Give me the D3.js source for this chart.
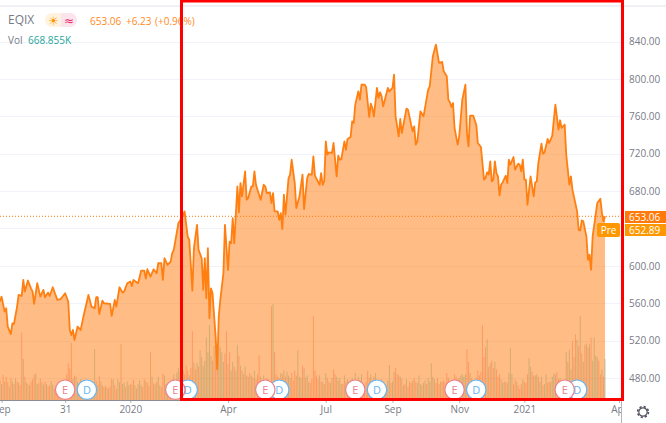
<!DOCTYPE html>
<html>
<head>
<meta charset="utf-8">
<title>EQIX</title>
<script src="https://cdn.jsdelivr.net/npm/d3@7"></script>
<style>
  body { margin: 0; background: #fff; }
  svg { display: block; font-family: "Open Sans", sans-serif; }
  .axis path, .axis line { stroke: #b2b5be; }
  .axis text { fill: #787b86; font-size: 10px; font-family: "Open Sans", sans-serif; }
</style>
</head>
<body>
<div id="chart"></div>
<script>
// trading day index (0 = start of Sep 2019) and the closing price
var priceDays = [0,1,3,4,5,7,8,9,11,12,14,15,16,18,20,21,22,24,26,28,29,31,32,34,37,39,42,44,45,46,47,48,
  50,52,54,57,59,61,62,63,64,66,67,71,72,74,75,77,79,80,82,84,85,86,89,91,93,94,95,97,99,101,102,104,105,106,108,110,111,112,115,117,
  119,121,122,124,125,127,128,130,131,132,133,134,135,136,137,139,140,141,142,144,145,147,148,149,150,151,153,
  154,155,156,158,159,160,162,163,164,165,168,170,171,172,174,175,176,177,179,180,181,182,183,184,186,187,188,190,191,193,195,196,198,199,
  201,202,203,206,207,208,209,210,211,212,214,215,217,218,219,220,222,223,224,226,227,228,229,231,232,233,235,236,238,239,240,241,243,244,245,246,247,248,
  250,251,253,254,255,257,258,259,262,263,265,266,267,268,269,271,273,276,277,279,281,283,285,286,288,289,290,291,292,293,295,296,298,
  300,301,302,303,305,307,308,310,312,313,314,315,316,317,318,319,320,321,322,323,324,326,327,328,329,331,332,334,335,336,337,338,339,
  340,342,344,345,346,347,349,350,351,353,354,356,357,358,360,361,362,364,365,366,367,368,369,372,373,374,375,376,378,379,380,381,382,385,387,388,389,390];
var priceValues = [561.8,567,551,554.6,535,527,538.5,537.8,556.4,568.9,567.8,585,572.5,584.3,576,572.5,559.3,581.4,567.1,574.3,566.4,571.4,567.8,577.1,563.5,564.3,570.7,561.8,531.4,526,531.4,520.7,
  535,531.4,547.5,568.9,556.4,554.6,566.4,566.4,548.5,562.8,560,559.3,546.4,563.5,556.4,577.1,571.4,572.5,581.4,583.2,578.5,585,581.4,595,595,586.4,596.4,588.5,596.4,592.1,602.8,602.8,585,608.2,601,604.6,613.5,617.1,645.7,651,
  658.2,631.4,627.8,573.5,618.9,643.9,617.1,608.2,574.3,608.2,565.3,618.9,543.9,576,570.7,524.3,489.3,545.7,563.5,592.1,643.9,595.7,626,624.2,651,624.2,685,
  657.2,688.6,674.3,701.1,670.8,672.6,685,685,701.1,686.8,670.8,686.8,685,677.9,678.6,667.2,677.9,658.3,658.3,649.3,656.5,639.4,676.1,654.7,694,697.6,713.6,688.6,661.9,674.3,697.6,660.8,694,698.3,
  697.6,717.2,696.5,686.8,699.3,686.8,690.4,733.3,719,721.5,720.8,731.5,695.8,717.9,713.6,714.3,733.3,724.3,735.8,737.9,754.7,752.9,772.6,786.8,777.9,794,794,791.5,759.3,773.6,769,760,790.4,779.7,785.8,781.5,770.8,777.2,
  790.4,786.8,790.4,804.7,760,738.6,757.2,742.2,768.3,767.2,751.1,744,749.3,729.7,733.3,765.4,760,788.6,792.2,824.3,836.8,817.2,818.3,808.3,802.9,777.9,775,770,774.3,747.6,729.7,738.6,777.9,
  794,742.2,727.9,760.8,760.8,751.1,731.5,727.2,692.2,694,700.1,697.6,711.8,690.4,692.2,711.8,699.3,695.8,675.4,686.8,689.3,696.5,688.6,713.6,708.3,716.5,702.9,709.3,708.3,701.1,713.6,692.2,692.2,
  665.4,695.8,674.3,689.3,690.4,710,730.8,720,721.5,735.8,731.5,739.3,756.5,772.6,745.8,755.8,747.6,751.1,719,702.9,686.8,695.8,681.5,658.3,638.6,637.9,648.6,647.6,631.5,606.5,611.9,595.8,631.5,667.2,671.8,656.5,647.6,653];

// volume in thousands per trading day, negative = down day
var volumes = [
  -320,260,-410,300,-380,-290,220,-350,300,-260,
  350,-300,280,-240,-1100,670,-380,290,-260,240,
  -300,-340,-410,430,260,-280,-350,290,250,-300,
  260,-220,-240,310,250,-190,-230,-280,220,-210,
  240,-260,300,-420,-600,-520,-930,350,-400,380,
  300,-260,340,-220,290,260,-240,280,-300,-250,
  260,830,-310,240,-390,300,-240,-210,230,-200,
  190,-220,-350,330,-240,-180,340,290,-910,260,
  280,-210,300,240,-260,250,-330,240,-190,260,
  320,240,-210,-340,300,-280,-230,-780,380,-270,
  260,-300,380,240,-210,-430,400,-260,280,-220,
  310,-340,420,-300,450,520,460,-350,480,-420,
  -560,-480,400,-520,-1120,610,-500,600,-540,810,
  700,560,640,1020,780,1220,720,-640,880,-960,
  -800,900,860,780,620,-760,-1120,580,-780,480,
  620,-540,480,900,-720,560,-480,420,540,-400,
  380,-440,400,-360,480,-340,-420,-730,380,-320,
  400,-300,-360,340,-300,-1530,1560,-780,-420,-380,
  -350,440,-420,480,-380,460,400,360,-440,-320,
  -480,-400,810,380,360,-560,520,-360,400,300,
  -280,-340,-1370,-480,-400,-340,400,-300,300,-260,
  440,-360,-300,280,360,-500,-420,380,-320,360,
  260,-260,400,-300,340,280,320,360,-300,440,
  -240,380,-320,420,-260,-240,-300,-480,-360,420,
  -320,-380,440,-300,280,-260,-340,300,260,-240,
  320,570,-280,300,460,-520,-420,-400,380,-340,
  240,-260,340,-220,-300,-280,320,-360,-300,280,
  400,260,-240,280,320,-260,360,300,600,380,
  340,-280,-360,-260,300,-300,-320,-280,-440,-360,
  -280,300,-260,-420,-380,-340,360,400,420,380,
  420,-830,-620,440,-360,280,-320,-360,-480,-400,
  -460,-1220,-700,-860,990,-540,600,-640,-520,620,
  -500,-380,-420,340,280,300,-300,-280,440,850,
  420,-260,-340,300,-240,-180,-260,340,-300,-280,
  -420,680,540,-460,-400,400,420,-380,300,380,
  -240,260,420,-280,-300,300,380,440,420,-460,
  -340,360,-300,-200,-300,780,-620,820,500,-960,
  700,-1070,980,-880,1370,-760,620,-900,920,-860,
  910,-1020,640,1020,720,700,-640,-420,500,-380,
  668.855];

var xTickDays = [1,42,84,147,210,253,296,338,399];
var xTickLabels = ["Sep","31","2020","Apr","Jul","Sep","Nov","2021","Apr"];
var gridPrices = [480,520,560,600,640,680,720,760,800,840];
var axisPrices = [480,520,560,600,680,720,760,800,840];
var earningsDays = [42,113,171,229,293,364];
var dividendDays = [56,121,180,243,307,372];
var lastPrice = 653.06;
var prePrice = 652.89;

var width = 666, height = 423, plotRight = 621, plotBottom = 400;

var svg = d3.select("#chart").append("svg").attr("width", width).attr("height", height);

var x = d3.scaleLinear().domain([0, 399]).range([0, 619]);
var y = d3.scaleLinear().domain([480, 840]).range([378, 41.6]);
var yVol = d3.scaleLinear().domain([0, 1630]).range([plotBottom, 300]);

svg.append("clipPath").attr("id", "plot").append("rect")
  .attr("width", plotRight).attr("height", plotBottom);

var plot = svg.append("g").attr("clip-path", "url(#plot)");

// top border
svg.append("line").attr("x1", 0).attr("x2", width).attr("y1", 6).attr("y2", 6)
  .attr("stroke", "#e0e3eb").attr("stroke-width", 1);

plot.selectAll(".grid").data(gridPrices).enter().append("line")
  .attr("class", "grid")
  .attr("x1", 0).attr("x2", plotRight)
  .attr("y1", d => Math.round(y(d)) + 0.5).attr("y2", d => Math.round(y(d)) + 0.5)
  .attr("stroke", "#f0f3fa");

// volume goes under the area so it shows through it
plot.selectAll(".vol").data(volumes).enter().append("rect")
  .attr("class", "vol")
  .attr("x", (d, i) => x(i) - 0.5)
  .attr("width", 1)
  .attr("y", d => yVol(Math.abs(d)))
  .attr("height", d => plotBottom - yVol(Math.abs(d)))
  .attr("fill", d => d < 0 ? "#ef5350" : "#26a69a")
  .attr("opacity", 0.4);

var points = d3.zip(priceDays, priceValues);

var area = d3.area().x(d => x(d[0])).y0(plotBottom).y1(d => y(d[1]));
var line = d3.line().x(d => x(d[0])).y(d => y(d[1]));

plot.append("path").attr("d", area(points))
  .attr("fill", "#ff7a0a").attr("fill-opacity", 0.5);

plot.append("path").attr("d", line(points))
  .attr("fill", "none").attr("stroke", "#ff7f11").attr("stroke-width", 1.8)
  .attr("stroke-linejoin", "round");

plot.append("line")
  .attr("x1", 0).attr("x2", plotRight)
  .attr("y1", y(lastPrice)).attr("y2", y(lastPrice))
  .attr("stroke", "#ff7a0a").attr("stroke-dasharray", "1 2");

// dividend and earnings markers
function marker(days, letter, color) {
  var g = plot.selectAll(".m" + letter).data(days).enter().append("g")
    .attr("class", "m" + letter)
    .attr("transform", d => "translate(" + x(d) + ",389.7)");
  g.append("circle").attr("r", 9.7).attr("fill", "#fff").attr("stroke", color).attr("stroke-width", 1.2);
  g.append("text").attr("text-anchor", "middle").attr("dy", 4)
    .attr("font-size", 11).attr("fill", color).text(letter);
}
marker(dividendDays, "D", "#64b5f6");
marker(earningsDays, "E", "#ec7f8e");

// x axis
svg.append("clipPath").attr("id", "xclip").append("rect")
  .attr("y", 0).attr("width", plotRight).attr("height", 30);
var xAxis = d3.axisBottom(x).tickValues(xTickDays).tickSize(3)
  .tickFormat((d, i) => xTickLabels[i]);
svg.append("g").attr("class", "axis").attr("clip-path", "url(#xclip)")
  .attr("transform", "translate(0," + plotBottom + ")").call(xAxis)
  .call(g => g.select(".domain").remove())
  .call(g => g.selectAll("text").attr("dy", "0.7em"));
svg.append("line").attr("x1", 0).attr("x2", plotRight).attr("y1", plotBottom + 0.5).attr("y2", plotBottom + 0.5)
  .attr("stroke", "#8a8d96");

// y axis
var yAxis = d3.axisRight(y).tickValues(axisPrices).tickSize(0).tickPadding(8)
  .tickFormat(d3.format(".2f"));
svg.append("g").attr("class", "axis")
  .attr("transform", "translate(" + plotRight + ",0)").call(yAxis)
  .call(g => g.select(".domain").remove());
svg.append("line").attr("x1", plotRight + 0.5).attr("x2", plotRight + 0.5).attr("y1", 6).attr("y2", height)
  .attr("stroke", "#b2b5be");

// last price and pre market labels
function priceTag(value, color, top, h) {
  svg.append("rect").attr("x", 625).attr("y", top).attr("width", 41).attr("height", h).attr("fill", color);
  svg.append("text").attr("x", 629).attr("y", top + h / 2 + 3.5).attr("font-size", 10)
    .attr("fill", "#fff").text(value.toFixed(2));
}
priceTag(lastPrice, "#ff7a0a", 211, 12);
priceTag(prePrice, "#ff9800", 224, 12);
svg.append("rect").attr("x", 597).attr("y", 223).attr("width", 23).attr("height", 14).attr("rx", 2).attr("fill", "#ff9800");
svg.append("text").attr("x", 608.5).attr("y", 234).attr("text-anchor", "middle")
  .attr("font-size", 10).attr("fill", "#fff").text("Pre");

// legend
svg.append("text").attr("x", 8).attr("y", 24).attr("font-size", 12).attr("fill", "#787b86").text("EQIX");
svg.append("path").attr("fill", "#fff3e0")
  .attr("d", "M61,13H52a7,7 0 0 0 0,14H61Z");
svg.append("path").attr("fill", "#fce4ec")
  .attr("d", "M61,13H70a7,7 0 0 1 0,14H61Z");
svg.append("text").attr("x", 53.5).attr("y", 24.5).attr("text-anchor", "middle")
  .attr("font-size", 12).attr("font-family", "DejaVu Sans").attr("fill", "#ff9800").text("\u2600");
svg.append("text").attr("x", 69).attr("y", 24.5).attr("text-anchor", "middle")
  .attr("font-size", 12).attr("font-family", "DejaVu Sans").attr("fill", "#e91e63").text("\u2248");
svg.append("text").attr("x", 90).attr("y", 25).attr("font-size", 10).attr("fill", "#ff8a1e").text("653.06");
svg.append("text").attr("x", 126).attr("y", 25).attr("font-size", 10).attr("fill", "#ff8a1e").text("+6.23");
svg.append("text").attr("x", 155).attr("y", 25).attr("font-size", 10).attr("fill", "#ff8a1e").text("(+0.96%)");
svg.append("text").attr("x", 8).attr("y", 43.5).attr("font-size", 10).attr("fill", "#787b86").text("Vol");
svg.append("text").attr("x", 28).attr("y", 43.5).attr("font-size", 10).attr("fill", "#26a69a").text("668.855K");

// settings gear
var gear = svg.append("g").attr("transform", "translate(643,412)").attr("fill", "none").attr("stroke", "#50535e");
gear.append("circle").attr("r", 4.2).attr("stroke-width", 1.2);
gear.append("circle").attr("r", 5.4).attr("stroke-width", 1.6).attr("stroke-dasharray", "2.2 2.04");

// highlight box
svg.append("rect").attr("x", 181.5).attr("y", 1).attr("width", 441).attr("height", 398.5)
  .attr("fill", "none").attr("stroke", "#ff0000").attr("stroke-width", 3);
</script>
</body>
</html>
